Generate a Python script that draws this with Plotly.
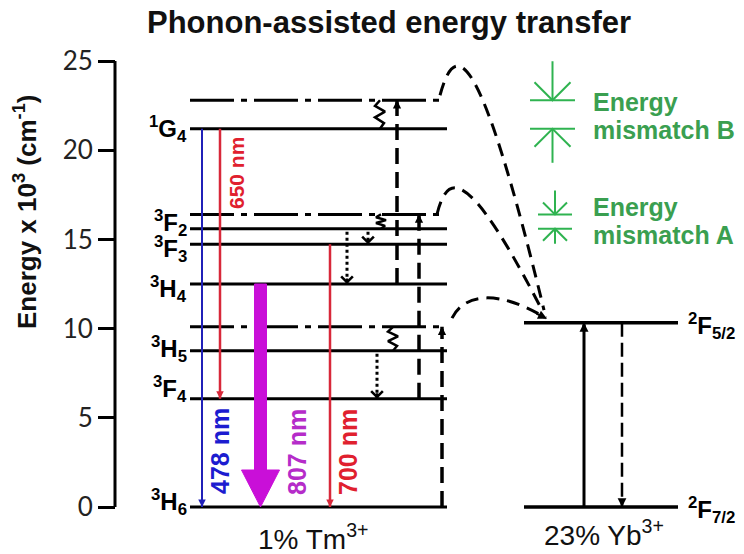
import plotly.graph_objects as go

# ---- data -----------------------------------------------------------------
# Tm3+ levels, energies in 10^3 cm^-1
tm_keys = ["3H6", "3F4", "3H5", "3H4", "3F3", "3F2", "1G4"]
tm_names = ["<sup>3</sup>H<sub>6</sub>", "<sup>3</sup>F<sub>4</sub>", "<sup>3</sup>H<sub>5</sub>",
            "<sup>3</sup>H<sub>4</sub>", "<sup>3</sup>F<sub>3</sub>", "<sup>3</sup>F<sub>2</sub>",
            "<sup>1</sup>G<sub>4</sub>"]
tm_energy = [0.0, 6.07, 8.76, 12.5, 14.73, 15.6, 21.2]

# virtual levels reached by phonon-assisted transfer from Yb3+
virtual_energy = [10.1, 16.4, 22.8]

# Yb3+ levels
yb_names = ["<sup>2</sup>F<sub>7/2</sub>", "<sup>2</sup>F<sub>5/2</sub>"]
yb_energy = [0.0, 10.33]

# radiative Tm3+ emissions
emission_nm = [478, 650, 807, 700]
emission_upper = ["1G4", "1G4", "3H4", "3F3"]
emission_lower = ["3H6", "3F4", "3H6", "3H6"]

y_ticks = [0, 5, 10, 15, 20, 25]

E = dict(zip(tm_keys, tm_energy))

# ---- canvas geometry --------------------------------------------------------
W, H = 744, 554
Y0_PX, PX_PER_UNIT = 507.0, 17.84          # pixel row of 0 and pixels per 10^3 cm^-1
y_lo = (Y0_PX - H) / PX_PER_UNIT
y_hi = Y0_PX / PX_PER_UNIT


def du(px):
    """pixel length -> energy units"""
    return px / PX_PER_UNIT


def xp(px):
    return px / W


def yp(py):
    return 1 - py / H


fig = go.Figure()


def seg(xs, ys, color="black", width=3, dash="solid"):
    fig.add_trace(go.Scatter(x=xs, y=ys, mode="lines", hoverinfo="skip", showlegend=False,
                             line=dict(color=color, width=width, dash=dash)))


def head(x, y, ax, ay, color="black", width=2, size=1.0, style=2):
    fig.add_annotation(x=x, y=y, xref="x", yref="y", ax=ax, ay=ay, text="",
                       showarrow=True, arrowhead=style, arrowcolor=color,
                       arrowwidth=width, arrowsize=size, standoff=0)


def label(x, y, text, size, color="black", bold=True, xanchor="center", yanchor="middle",
          angle=0, family="Arial"):
    fig.add_annotation(x=xp(x), y=yp(y), xref="paper", yref="paper", text=text,
                       showarrow=False, xanchor=xanchor, yanchor=yanchor, textangle=angle,
                       font=dict(family=family, size=size, color=color,
                                 weight="bold" if bold else "normal"))


# ---- Tm3+ levels --------------------------------------------------------------
TM_X0, TM_X1 = 190, 447
for e in tm_energy:
    seg([TM_X0, TM_X1], [e, e], width=3)
for e in virtual_energy:
    seg([TM_X0, TM_X1 - 2], [e, e], width=3, dash="44px,7px,6px,7px")

# level labels (small vertical nudges in px)
nudge = {"3H6": 5, "3F4": 10, "3H5": 2, "3H4": -5, "3F3": -5, "3F2": 6, "1G4": 0}
for k, name, e in zip(tm_keys, tm_names, tm_energy):
    fig.add_annotation(x=TM_X0, y=e, xref="x", yref="y", text=name, showarrow=False,
                       xanchor="right", yanchor="middle", xshift=-1, yshift=nudge[k],
                       font=dict(family="Arial", size=24, color="black", weight="bold"))

# ---- Yb3+ levels ----------------------------------------------------------------
YB_X0, YB_X1 = 524, 678
for name, e in zip(yb_names, yb_energy):
    seg([YB_X0, YB_X1], [e, e], width=3.5)
    fig.add_annotation(x=686, y=e, xref="x", yref="y", text=name, showarrow=False,
                       xanchor="left", yanchor="middle", yshift=-3,
                       font=dict(family="Arial", size=24, color="black", weight="bold"))

# Yb absorption (solid, up) and emission (dashed, down)
seg([584, 584], [yb_energy[0], yb_energy[1]], width=3)
head(584, yb_energy[1], 0, 10, width=3, size=0.6)
seg([622, 622], [yb_energy[1], yb_energy[0]], width=2.5, dash="14px,6px")
head(622, yb_energy[0], 0, -9, width=2.5, size=0.7)

# ---- radiative emissions ------------------------------------------------------------
emis_style = {
    478: dict(x=202, color="#2020b8", width=2),
    650: dict(x=220, color="#d8283a", width=2.5),
    700: dict(x=330, color="#d8283a", width=2.5),
}
for nm, up, lo in zip(emission_nm, emission_upper, emission_lower):
    if nm == 807:
        continue
    s = emis_style[nm]
    seg([s["x"], s["x"]], [E[up], E[lo]], color=s["color"], width=s["width"])
    head(s["x"], E[lo], 0, -9, color=s["color"], width=2, size=0.75)

# broad 807 nm arrow (3H4 -> 3H6)
cx, shaft, hw, hl = 260.5, 6.0, 19.0, du(37)
top, bot = E[emission_upper[2]], E[emission_lower[2]]
fig.add_trace(go.Scatter(
    x=[cx - shaft, cx + shaft, cx + shaft, cx + hw, cx, cx - hw, cx - shaft, cx - shaft],
    y=[top, top, bot + hl, bot + hl, bot, bot + hl, bot + hl, top],
    mode="lines", fill="toself", fillcolor="#c90fd8", line=dict(color="#c90fd8", width=1),
    hoverinfo="skip", showlegend=False))

# wavelength labels
label(236, 173, "650 nm", 21, "#e0202e", angle=-90)
label(220, 451, "478 nm", 25, "#1c1cd0", angle=-90)
label(297, 452, "807 nm", 25, "#b52cc9", angle=-90)
label(348, 452, "700 nm", 25, "#e0202e", angle=-90)

# ---- non-radiative relaxation (dotted) -----------------------------------------------
for x, up, lo in [(347, "3F2", "3H4"), (368, "3F2", "3F3"), (377, "3H5", "3F4")]:
    seg([x, x], [E[up] - du(3), E[lo]], width=3, dash="3px,3px")
    head(x, E[lo], 0, -7, width=2.5, size=0.9, style=4)

# phonon squiggles between virtual and real levels
zig = [0, -5, 5, -5, 4, 0]
for x, hi, lo in [(380, virtual_energy[2], E["1G4"]),
                  (381, virtual_energy[1], E["3F2"]),
                  (393, virtual_energy[0], E["3H5"])]:
    n = len(zig) - 1
    seg([x + z for z in zig], [hi - (hi - lo) * i / n for i in range(n + 1)], width=2.5)

# ---- energy-transfer excitations (dashed, up) ------------------------------------------
for x, lo, hi in [(397, E["3H4"], virtual_energy[2]),
                  (419, E["3F4"], virtual_energy[1]),
                  (442, E["3H6"], virtual_energy[0])]:
    seg([x, x], [lo, hi], width=3.5, dash="16px,8px")
    head(x, hi, 0, 9, width=3, size=0.55)

# ---- transfer paths from Yb 2F5/2 ----------------------------------------------------
yb_up = yb_energy[1]
curves = [
    # (x0, y0, x1, y1, x2, y2, x3, y3)
    (440, virtual_energy[2] + 0.28, 455, virtual_energy[2] + 3.36, 478, virtual_energy[2] + 3.47,
     544, yb_up + 0.71),
    (437, virtual_energy[1] + 0.01, 447, virtual_energy[1] + 2.2, 465, virtual_energy[1] + 3.04,
     542, yb_up + 0.71),
    (452, virtual_energy[0] + 0.49, 465, virtual_energy[0] + 1.94, 500, virtual_energy[0] + 2.06,
     546, yb_up + 0.26),
]
for c in curves:
    path = "M {},{} C {},{} {},{} {},{}".format(*c)
    fig.add_shape(type="path", path=path, xref="x", yref="y",
                  line=dict(color="black", width=3, dash="13px,8px"))
head(547, yb_up + 0.22, -12, -6, width=2, size=0.9)

# ---- energy mismatch markers ---------------------------------------------------------
GREEN = "#2fb350"
for (hi, lo), (x0, x1), (l_top, l_bot), w in [
        ((virtual_energy[2], E["1G4"]), (530, 575), (39, 34), 18),
        ((virtual_energy[1], E["3F2"]), (538, 572), (24, 15), 12)]:
    xc = (x0 + x1) / 2
    seg([x0, x1], [hi, hi], color=GREEN, width=2)
    seg([xc, xc], [hi + du(l_top), hi], color=GREEN, width=2)
    seg([xc - w, xc, xc + w], [hi + du(w), hi, hi + du(w)], color=GREEN, width=2)
    seg([x0, x1], [lo, lo], color=GREEN, width=2)
    seg([xc, xc], [lo, lo - du(l_bot)], color=GREEN, width=2)
    seg([xc - w, xc, xc + w], [lo - du(w), lo, lo - du(w)], color=GREEN, width=2)

TXT_GREEN = "#3a9f50"
label(591, 102, "Energy", 25, TXT_GREEN, xanchor="left")
label(591, 130, "mismatch B", 25, TXT_GREEN, xanchor="left")
label(591, 207, "Energy", 25, TXT_GREEN, xanchor="left")
label(591, 235, "mismatch A", 25, TXT_GREEN, xanchor="left")

# ---- energy axis spine -------------------------------------------------------------------
seg([115, 115], [y_ticks[0], y_ticks[-1]], width=3)

# ---- titles -----------------------------------------------------------------------------
label(389, 22, "Phonon-assisted energy transfer", 31, "#111111")
label(25, 212, "Energy x 10<sup>3</sup> (cm<sup>-1</sup>)", 26, "#111111", angle=-90)
label(313, 537, "1% Tm<sup>3+</sup>", 28, "#111111", bold=False)
label(604, 533, "23% Yb<sup>3+</sup>", 28, "#111111", bold=False)

fig.update_layout(
    width=W, height=H, margin=dict(l=0, r=0, t=0, b=0),
    paper_bgcolor="white", plot_bgcolor="white", showlegend=False,
    xaxis=dict(range=[0, W], visible=False, fixedrange=True),
    yaxis=dict(range=[y_lo, y_hi], anchor="free", position=115 / W, side="left",
               tickvals=y_ticks, ticktext=[str(v) for v in y_ticks],
               ticks="outside", ticklen=17, tickwidth=3, tickcolor="black",
               showline=False, showgrid=False, zeroline=False, fixedrange=True,
               tickfont=dict(family="Lato", size=26, color="#222222")),
)

fig.write_html("out.html")
